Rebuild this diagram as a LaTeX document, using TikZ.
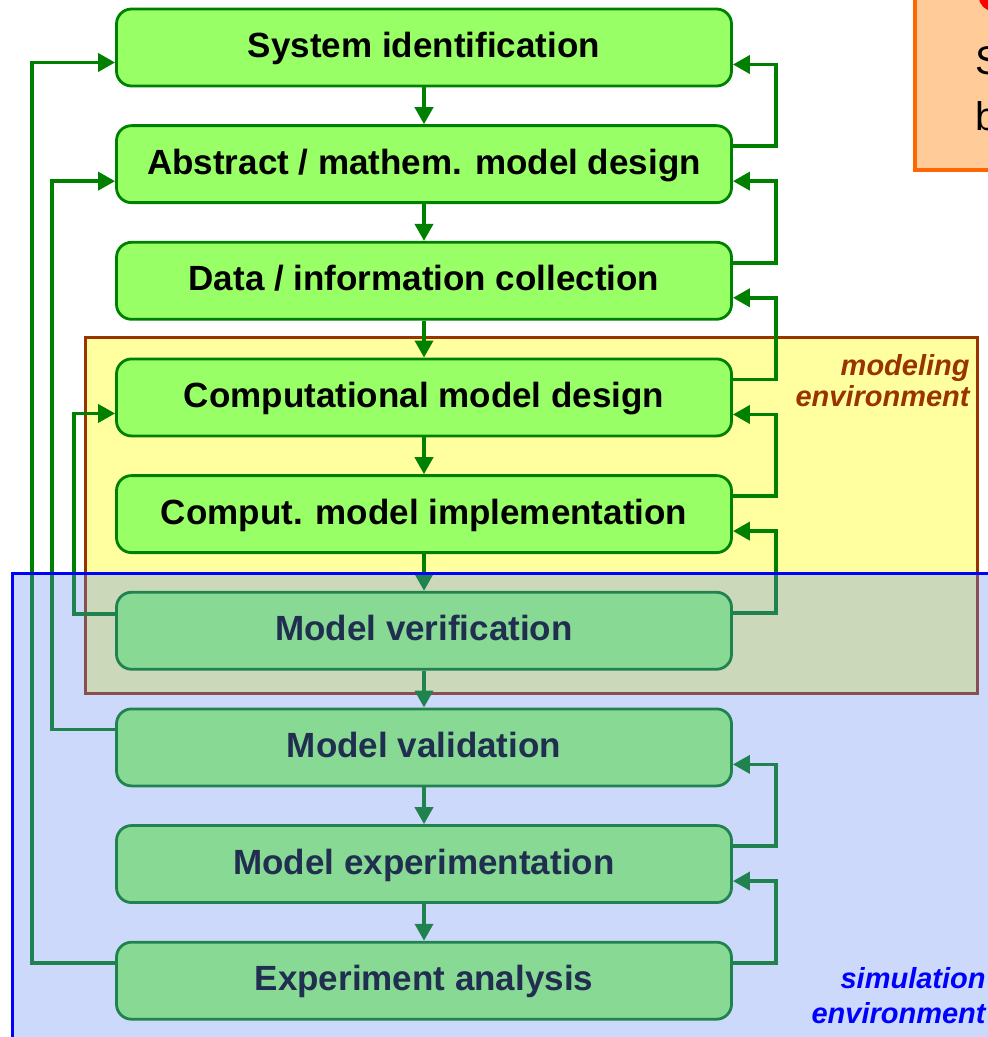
\documentclass[tikz,border=0pt]{standalone}
\usepackage{fontspec}
\setmainfont{Liberation Sans}
\usetikzlibrary{arrows.meta}

\definecolor{stagefill}{RGB}{153,255,102}
\definecolor{stageline}{RGB}{0,128,0}
\definecolor{modfill}{RGB}{255,255,160}
\definecolor{modline}{RGB}{153,51,0}
\definecolor{simfill}{RGB}{100,140,240}
\definecolor{notefill}{RGB}{255,204,153}
\definecolor{noteline}{RGB}{255,102,0}

\tikzset{
  stage/.style={draw=stageline, fill=stagefill, line width=1.4pt, rounded corners=7.5pt,
    minimum width=307.5pt, minimum height=38.5pt, inner sep=0pt, text depth=0.25em,
    font=\fontsize{17.5}{21}\selectfont\bfseries},
  flow/.style={draw=stageline, line width=1.9pt, -{Triangle[length=8.5pt,width=9pt]}},
  envlabel/.style={anchor=north east, align=right, inner sep=0pt},
}

\begin{document}
\begin{tikzpicture}[x=0.5pt, y=-0.5pt]
  \useasboundingbox (0,0) rectangle (988,1037);
  \clip (0,0) rectangle (988,1037);

  % modeling environment and note box
  \draw[modline, fill=modfill, line width=1.5pt] (85,337) rectangle (977,693);
  \draw[noteline, fill=notefill, line width=2pt] (915,-10) rectangle (1000,170);
  \fill[red] (993,-3) circle (14);
  \node[anchor=base west, inner sep=0pt, font=\fontsize{20}{24}\selectfont] (s) at (975,75) {S};
  \node[anchor=base west, inner sep=0pt, font=\fontsize{20}{24}\selectfont] (b) at (975,131) {b};

  % stages
  \foreach \t [count=\i] in {System identification, Abstract / mathem. model design,
      Data / information collection, Computational model design,
      Comput. model implementation, Model verification, Model validation,
      Model experimentation, Experiment analysis} {
    \node[stage] (\i) at (424, {47.5+116.65*(\i-1)}) {\t};
  }
  \foreach \i [count=\j from 2] in {1,...,8} {
    \draw[flow] (\i) -- (\j);
  }

  % feedback on the right
  \foreach \a/\b in {2/1, 3/2, 4/3, 5/4, 6/5, 8/7, 9/8} {
    \draw[flow] ([yshift=9pt]\a.east) -- ++(43,0) |- ([yshift=-8.5pt]\b.east);
  }

  % feedback on the left
  \draw[flow] ([yshift=9pt]9.west) -- ++(-83,0) |- ([yshift=-7.5pt]1.west);
  \draw[flow] ([yshift=9pt]7.west) -- ++(-63,0) |- ([yshift=-8.5pt]2.west);
  \draw[flow] ([yshift=8.5pt]6.west) -- ++(-41,0) |- ([yshift=-8pt]4.west);

  % simulation environment
  \draw[blue, line width=1.5pt, fill=simfill, fill opacity=0.33] (12,573) rectangle (1010,1060);

  \node[envlabel, text=modline, font=\fontsize{14.5}{15.5}\selectfont\bfseries\itshape] (modlab)
    at (970,354) {modeling\\environment};
  \node[envlabel, text=blue, font=\fontsize{14.5}{17.5}\selectfont\bfseries\itshape] (simlab)
    at (986,967) {simulation\\environment};
\end{tikzpicture}
\end{document}
